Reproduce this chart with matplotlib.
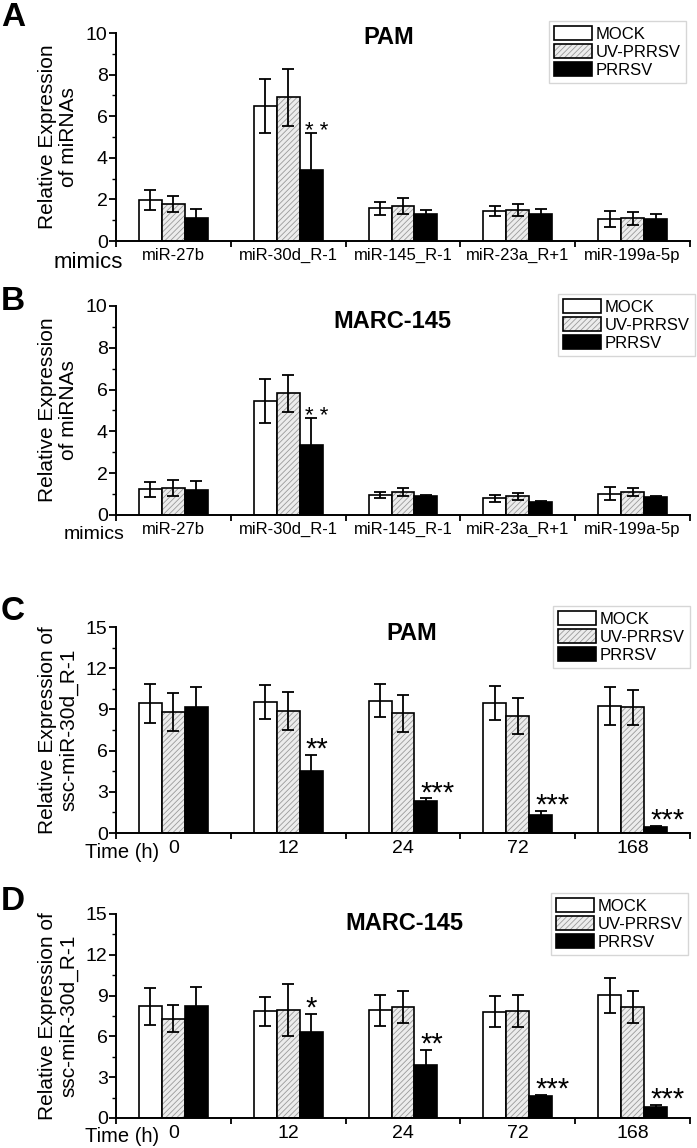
import matplotlib
matplotlib.use("Agg")
import matplotlib.pyplot as plt
import numpy as np
from matplotlib.patches import Patch
from matplotlib.legend_handler import HandlerTuple
from matplotlib.ticker import MultipleLocator

plt.rcParams['font.family'] = ['Liberation Sans', 'DejaVu Sans']
plt.rcParams['hatch.linewidth'] = 0.6

# ---- data ----
mirnas = ["miR-27b", "miR-30d_R-1", "miR-145_R-1", "miR-23a_R+1", "miR-199a-5p"]
times = ["0", "12", "24", "72", "168"]
series = ["MOCK", "UV-PRRSV", "PRRSV"]

# A: PAM, mimics
mock_a = [1.98, 6.49, 1.57, 1.42, 1.04]
mock_a_err = [0.48, 1.29, 0.30, 0.24, 0.38]
uv_a = [1.79, 6.90, 1.68, 1.49, 1.09]
uv_a_err = [0.38, 1.37, 0.37, 0.27, 0.30]
prrsv_a = [1.10, 3.43, 1.29, 1.28, 1.07]
prrsv_a_err = [0.43, 1.78, 0.18, 0.24, 0.21]
stars_a = ["", "* *", "", "", ""]

# B: MARC-145, mimics
mock_b = [1.23, 5.45, 0.96, 0.80, 1.02]
mock_b_err = [0.37, 1.07, 0.15, 0.17, 0.30]
uv_b = [1.31, 5.83, 1.10, 0.89, 1.10]
uv_b_err = [0.38, 0.88, 0.19, 0.16, 0.21]
prrsv_b = [1.18, 3.36, 0.89, 0.61, 0.84]
prrsv_b_err = [0.43, 1.27, 0.06, 0.05, 0.08]
stars_b = ["", "* *", "", "", ""]

# C: PAM, time course
mock_c = [9.44, 9.54, 9.64, 9.47, 9.27]
mock_c_err = [1.41, 1.26, 1.21, 1.21, 1.38]
uv_c = [8.81, 8.91, 8.71, 8.52, 9.15]
uv_c_err = [1.36, 1.38, 1.36, 1.29, 1.26]
prrsv_c = [9.15, 4.49, 2.35, 1.33, 0.44]
prrsv_c_err = [1.46, 1.19, 0.17, 0.27, 0.05]
stars_c = ["", "**", "***", "***", "***"]

# D: MARC-145, time course
mock_d = [8.22, 7.86, 7.93, 7.81, 9.01]
mock_d_err = [1.37, 1.06, 1.15, 1.15, 1.30]
uv_d = [7.29, 7.93, 8.13, 7.88, 8.13]
uv_d_err = [1.00, 1.89, 1.18, 1.16, 1.18]
prrsv_d = [8.20, 6.33, 3.88, 1.60, 0.81]
prrsv_d_err = [1.40, 1.30, 1.10, 0.12, 0.17]
stars_d = ["", "*", "**", "***", "***"]

W, H = 697, 1148
fig = plt.figure(figsize=(W / 100, H / 100), dpi=100)

HATCH_FC = '#ececec'
HATCH_C = '#9a9a9a'
bw = 0.2


def fx(px):
    return px / W


def fy(py):
    return 1 - py / H


def panel(top, bottom, labels, vals, errs, stars, ymax, ystep, tick_fs, star_fs, star_dy):
    left, right = 116, 690
    ax = fig.add_axes([fx(left), fy(bottom), fx(right - left), (bottom - top) / H])
    x = np.arange(len(labels)) + 0.5
    for k, (v, e) in enumerate(zip(vals, errs)):
        xs = x + (k - 1) * bw
        if k == 0:
            ax.bar(xs, v, bw, color='white', edgecolor='black', lw=1.2, zorder=2)
        elif k == 1:
            ax.bar(xs, v, bw, color=HATCH_FC, edgecolor=HATCH_C, lw=0, hatch='//////', zorder=2)
            ax.bar(xs, v, bw, fill=False, edgecolor='black', lw=1.2, zorder=3)
        else:
            ax.bar(xs, v, bw, color='black', edgecolor='black', lw=1.2, zorder=2)
        ax.errorbar(xs, v, yerr=e, fmt='none', ecolor='black', elinewidth=1.3,
                    capsize=4.5, capthick=1.3, zorder=4)
    prr = np.array(vals[2]) + np.array(errs[2])
    for i, s in enumerate(stars):
        if s:
            n = s.count('*')
            ax.annotate(s, (x[i] + bw + 0.05 * (n - 1), prr[i]), xytext=(0, star_dy),
                        textcoords='offset points', ha='center', va='baseline',
                        fontsize=star_fs, zorder=5)
    ax.set_xlim(0, len(labels))
    ax.set_ylim(0, ymax)
    ax.spines['top'].set_visible(False)
    ax.spines['right'].set_visible(False)
    ax.spines['left'].set_linewidth(1.4)
    ax.spines['bottom'].set_linewidth(1.4)
    ax.set_xticks(np.arange(len(labels) + 1))
    ax.set_xticklabels([])
    ax.set_xticks(x, minor=True)
    ax.set_xticklabels(labels, minor=True, fontsize=tick_fs)
    ax.tick_params(axis='x', which='major', direction='out', length=4, width=1.3)
    ax.tick_params(axis='x', which='minor', length=0, pad=5)
    ax.set_yticks(np.arange(0, ymax + 0.01, ystep))
    ax.yaxis.set_minor_locator(MultipleLocator(ystep / 2))
    ax.tick_params(axis='y', which='major', direction='out', length=5, width=1.3,
                   labelsize=14, pad=1)
    ax.tick_params(axis='y', which='minor', direction='out', length=3, width=1.0)
    return ax


def add_legend(ax, left, top):
    handles = [
        (Patch(facecolor='white', edgecolor='black', lw=1.2),),
        (Patch(facecolor=HATCH_FC, edgecolor=HATCH_C, lw=0, hatch='//////'),
         Patch(fill=False, edgecolor='black', lw=1.2)),
        (Patch(facecolor='black', edgecolor='black', lw=1.2),),
    ]
    leg = ax.legend(handles, series, loc='upper left',
                    bbox_to_anchor=(fx(left), fy(top)), bbox_transform=fig.transFigure,
                    handler_map={tuple: HandlerTuple(ndivide=1)},
                    fontsize=12, frameon=True, fancybox=False, edgecolor='#cccccc',
                    handlelength=2.3, handleheight=0.9, handletextpad=0.2,
                    labelspacing=0.15, borderpad=0.3, borderaxespad=0)
    leg.get_frame().set_linewidth(1.0)


ylab_ab = "Relative Expression\nof miRNAs"
ylab_cd = "Relative Expression of\nssc-miR-30d_R-1"

ax_a = panel(33, 241, mirnas, [mock_a, uv_a, prrsv_a],
             [mock_a_err, uv_a_err, prrsv_a_err], stars_a, 10, 2, 12, 16, -3)
add_legend(ax_a, 549, 21)
ax_b = panel(306, 515, mirnas, [mock_b, uv_b, prrsv_b],
             [mock_b_err, uv_b_err, prrsv_b_err], stars_b, 10, 2, 12, 16, -3)
add_legend(ax_b, 558, 294)
ax_c = panel(627, 833, times, [mock_c, uv_c, prrsv_c],
             [mock_c_err, uv_c_err, prrsv_c_err], stars_c, 15, 3, 14, 21, -2)
add_legend(ax_c, 553, 606)
ax_d = panel(914, 1118, times, [mock_d, uv_d, prrsv_d],
             [mock_d_err, uv_d_err, prrsv_d_err], stars_d, 15, 3, 14, 21, -2)
add_legend(ax_d, 551, 893)

# y labels
for yc, lab in [(137, ylab_ab), (410, ylab_ab), (730, ylab_cd), (1016, ylab_cd)]:
    fig.text(fx(58), fy(yc), lab, rotation=90, ha='center', va='center',
             fontsize=15, multialignment='center', linespacing=1.15)

# titles
fig.text(fx(389), fy(38), "PAM", ha='center', va='center', fontsize=17, fontweight='bold')
fig.text(fx(392), fy(322), "MARC-145", ha='center', va='center', fontsize=17, fontweight='bold')
fig.text(fx(412), fy(633), "PAM", ha='center', va='center', fontsize=17, fontweight='bold')
fig.text(fx(404), fy(923), "MARC-145", ha='center', va='center', fontsize=17, fontweight='bold')

# x axis names
fig.text(fx(123), fy(262), "mimics", ha='right', va='center', fontsize=16)
fig.text(fx(125), fy(534), "mimics", ha='right', va='center', fontsize=14)
fig.text(fx(159), fy(852), "Time (h)", ha='right', va='center', fontsize=14.5)
fig.text(fx(159), fy(1137), "Time (h)", ha='right', va='center', fontsize=14.5)

# panel letters
for ly, letter in [(17, "A"), (302, "B"), (612, "C"), (901, "D")]:
    fig.text(fx(1), fy(ly), letter, ha='left', va='center', fontsize=24, fontweight='bold')

fig.savefig("out.png", dpi=100)
